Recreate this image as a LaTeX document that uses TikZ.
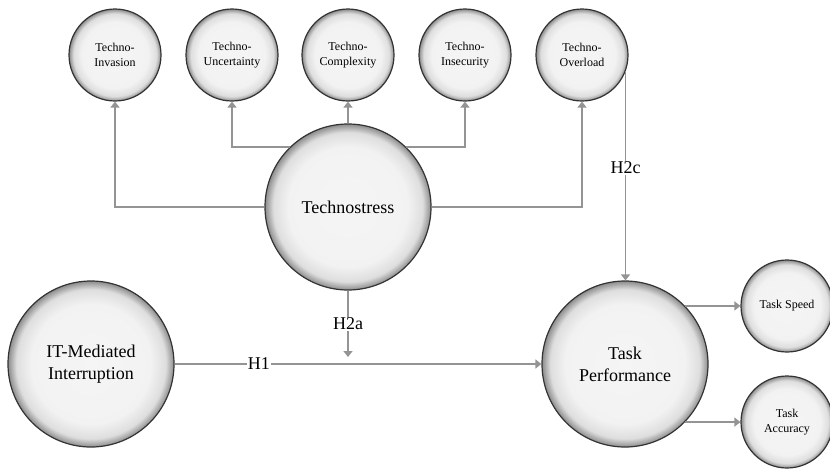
\documentclass[tikz,border=0pt]{standalone}
\usepackage{fontspec}
\setmainfont{Liberation Serif}
\usetikzlibrary{arrows.meta}
\pgfdeclareradialshading{bubble}{\pgfpoint{0bp}{0bp}}{color(0bp)=(black!4); color(18bp)=(black!5); color(22.5bp)=(black!13); color(25bp)=(black!45); color(50bp)=(black!45)}

\begin{document}
\begin{tikzpicture}[x=1pt, y=-1pt, >={Triangle[width=9pt,length=6pt]},
big/.style = {circle, draw=black!80, line width=1.2pt, shading=bubble, minimum size=166pt, inner sep=0pt, align=center, font=\rmfamily\fontsize{18}{22}\selectfont},
small/.style = {big, minimum size=92pt, font=\rmfamily\fontsize{12}{15}\selectfont},
link/.style = {draw=black!42, line width=1.8pt},
hyp/.style = {fill=white, inner sep=1pt, font=\rmfamily\fontsize{18}{22}\selectfont}]
\useasboundingbox (0,0) rectangle (830,469);

\node[small] (inv) at (115,55) {Techno-\\Invasion};
\node[small] (unc) at (232,55) {Techno-\\Uncertainty};
\node[small] (comp) at (348,55) {Techno-\\Complexity};
\node[small] (ins) at (465,55) {Techno-\\Insecurity};
\node[small] (over) at (582,55) {Techno-\\Overload};

\node[big] (tech) at (348,207) {Technostress};
\node[big] (it) at (91,364) {IT-Mediated\\Interruption};
\node[big] (tp) at (625,364) {Task\\Performance};

\node[small] (speed) at (787,306) {Task Speed};
\node[small] (acc) at (787,422) {Task\\Accuracy};

\draw[link, ->] (tech.west) -| (inv.south);
\draw[link, ->] (tech.134) -| (unc.south);
\draw[link, ->] (tech.north) -- (comp.south);
\draw[link, ->] (tech.46) -| (ins.south);
\draw[link, ->] (tech.east) -| (over.south);

\draw[link, ->] (over.-21) -- node[hyp, pos=0.46] {H2c} (over.-21 |- tp.north);
\draw[link, ->] (it.east) -- node[hyp, pos=0.23] {H1} (tp.west);
\coordinate (mod) at (348,357);
\draw[link, ->] (tech.south) -- node[hyp] {H2a} (mod);

\draw[link, ->] (tp.44) -- (tp.44 -| speed.west);
\draw[link, ->] (tp.-44) -- (tp.-44 -| acc.west);
\end{tikzpicture}
\end{document}
